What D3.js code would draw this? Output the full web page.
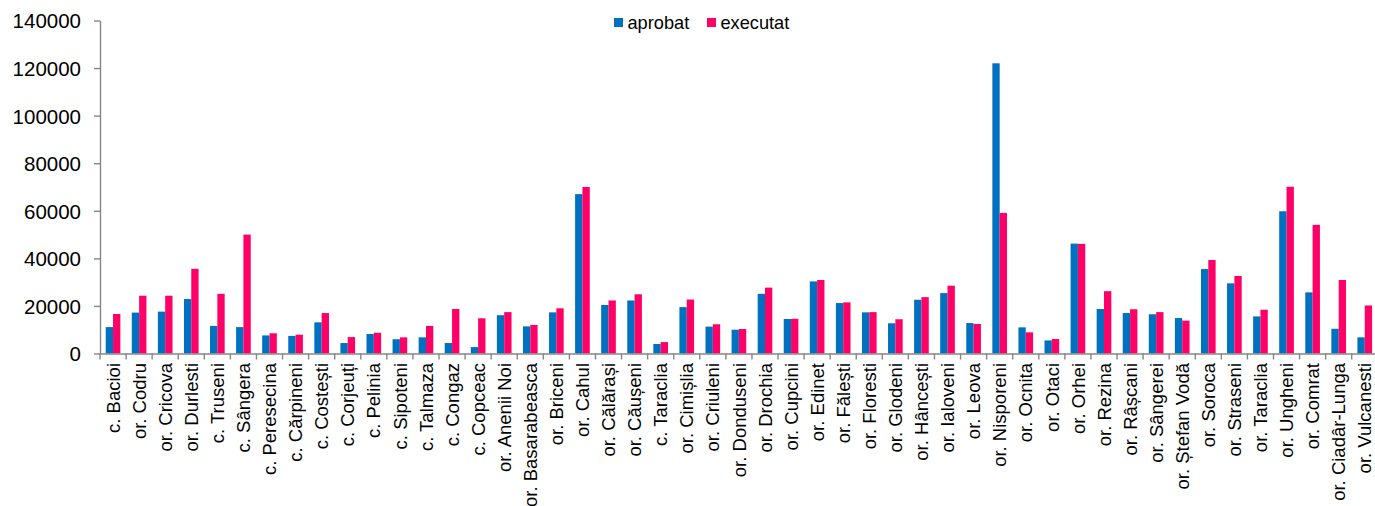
<!DOCTYPE html>
<html>
<head>
<meta charset="utf-8">
<script src="https://cdn.jsdelivr.net/npm/d3@7"></script>
<style>
  html, body { margin: 0; padding: 0; background: #fff; }
  svg { display: block; font-family: "Liberation Sans", Arial, sans-serif; }
</style>
</head>
<body>
<svg id="chart" width="1375" height="506"></svg>
<script>
// Localities
const categories = [
  "c. Bacioi", "or. Codru", "or. Cricova", "or. Durlesti", "c. Truseni", "c. Sângera",
  "c. Peresecina", "c. Cărpineni", "c. Costești", "c. Corjeuți", "c. Pelinia", "c. Sipoteni",
  "c. Talmaza", "c. Congaz", "c. Copceac", "or. Anenii Noi", "or. Basarabeasca", "or. Briceni",
  "or. Cahul", "or. Călărași", "or. Căușeni", "c. Taraclia", "or. Cimișlia", "or. Criuleni",
  "or. Donduseni", "or. Drochia", "or. Cupcini", "or. Edinet", "or. Fălești", "or. Floresti",
  "or. Glodeni", "or. Hâncești", "or. Ialoveni", "or. Leova", "or. Nisporeni", "or. Ocnita",
  "or. Otaci", "or. Orhei", "or. Rezina", "or. Râșcani", "or. Sângerei", "or. Ștefan Vodă",
  "or. Soroca", "or. Straseni", "or. Taraclia", "or. Ungheni", "or. Comrat", "or. Ciadâr-Lunga",
  "or. Vulcanesti"
];

// Approved amounts
const aprobat = [
  11100, 17200, 17600, 22900, 11600, 11100,
  7600, 7400, 13100, 4400, 8200, 6000,
  6800, 4400, 2700, 16100, 11400, 17300,
  67000, 20400, 22300, 4000, 19500, 11300,
  10000, 25100, 14500, 30300, 21200, 17300,
  12700, 22600, 25400, 12800, 122000, 11000,
  5500, 46200, 18700, 17000, 16500, 14900,
  35500, 29500, 15600, 59800, 25700, 10400,
  6800
];

// Executed amounts
const executat = [
  16600, 24300, 24300, 35600, 25100, 50000,
  8500, 7900, 17000, 6900, 8700, 6800,
  11600, 18700, 14800, 17400, 12000, 19000,
  70000, 22300, 24900, 4800, 22700, 12300,
  10300, 27700, 14600, 30900, 21500, 17400,
  14400, 23700, 28500, 12400, 59100, 8900,
  6100, 46100, 26200, 18600, 17400, 13800,
  39300, 32600, 18400, 70100, 54100, 30900,
  20200
];

const seriesNames = ["aprobat", "executat"];
const seriesColors = ["#0070C0", "#FF0066"];
const yTicks = [0, 20000, 40000, 60000, 80000, 100000, 120000, 140000];

const svg = d3.select("#chart");
const axisColor = "#868686";

const x = d3.scaleBand().domain(categories).range([100, 1377.8]).padding(0);
const xs = d3.scaleBand().domain(seriesNames).range([0, x.bandwidth()])
  .paddingInner(0).paddingOuter(0.78);
const y = d3.scaleLinear().domain([0, 140000]).range([353.5, 20.5]);

// Bars
const groups = svg.append("g").selectAll("g")
  .data(categories)
  .join("g")
  .attr("transform", d => `translate(${x(d)},0)`);

groups.selectAll("rect")
  .data((d, i) => [
    { s: "aprobat", v: aprobat[i] },
    { s: "executat", v: executat[i] }
  ])
  .join("rect")
  .attr("x", d => xs(d.s))
  .attr("width", xs.bandwidth())
  .attr("y", d => y(d.v))
  .attr("height", d => y(0) - y(d.v))
  .attr("fill", d => seriesColors[seriesNames.indexOf(d.s)]);

// Y axis
const yAxis = svg.append("g")
  .attr("transform", "translate(100,0)")
  .call(d3.axisLeft(y).tickValues(yTicks).tickSize(6).tickPadding(13).tickSizeOuter(0).tickFormat(d3.format("d")));
yAxis.select(".domain").attr("stroke", axisColor).attr("stroke-width", 1.4);
yAxis.selectAll(".tick line").attr("stroke", axisColor).attr("stroke-width", 1.4);
yAxis.selectAll(".tick text")
  .attr("fill", "#000")
  .style("font-size", "20.5px")
  .attr("dy", "0.36em");

// X axis
const xAxis = svg.append("g")
  .attr("transform", `translate(0,${y(0)})`)
  .call(d3.axisBottom(x).tickSize(0).tickSizeOuter(0));
xAxis.select(".domain").attr("stroke", axisColor).attr("stroke-width", 1.4);
xAxis.selectAll(".tick text")
  .attr("fill", "#000")
  .style("font-size", "18.5px")
  .attr("text-anchor", "end")
  .attr("transform", "rotate(-90)")
  .attr("x", -9.5)
  .attr("y", 0)
  .attr("dy", "0.36em");

// Tick marks at category boundaries
xAxis.append("g").selectAll("line")
  .data(categories)
  .join("line")
  .attr("x1", d => x(d))
  .attr("x2", d => x(d))
  .attr("y1", 0)
  .attr("y2", 6)
  .attr("stroke", axisColor)
  .attr("stroke-width", 1.4);

// Legend
const legend = svg.append("g").attr("transform", "translate(614,18)");
const legendX = [0, 93];
seriesNames.forEach((name, i) => {
  const g = legend.append("g").attr("transform", `translate(${legendX[i]},0)`);
  g.append("rect").attr("width", 9).attr("height", 9).attr("fill", seriesColors[i]);
  g.append("text")
    .attr("x", 13.5)
    .attr("y", 11)
    .style("font-size", "18.2px")
    .attr("fill", "#000")
    .text(name);
});
</script>
</body>
</html>
